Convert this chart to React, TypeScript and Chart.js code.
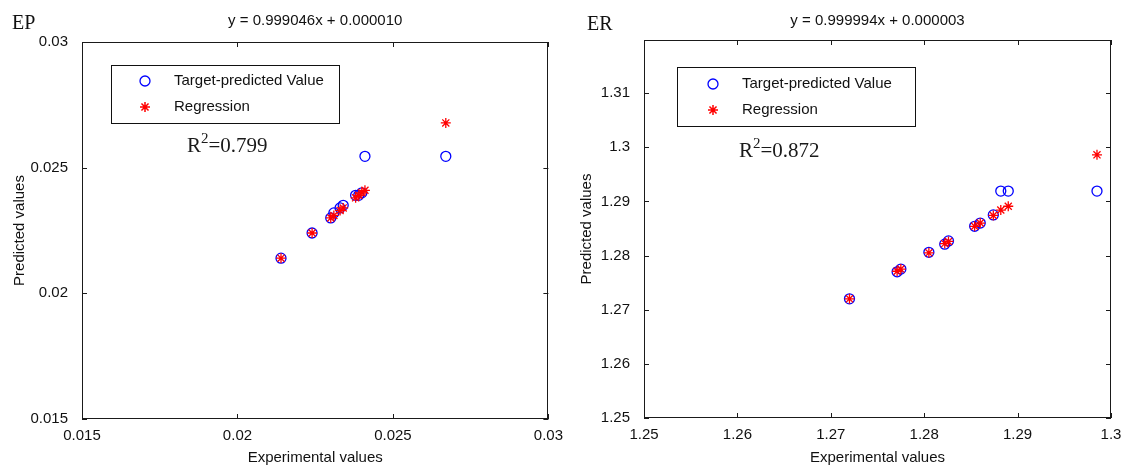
import React, { useEffect, useRef } from "react";
import { Chart, registerables } from "chart.js";

Chart.register(...registerables);

// ---------- EP panel data ----------
const epExperimental = [0.0214, 0.0224, 0.0230, 0.0231, 0.0233, 0.0234, 0.0238, 0.0239, 0.0240, 0.0241, 0.0267];
const epPredicted = [0.0214, 0.0224, 0.0230, 0.0232, 0.0234, 0.0235, 0.0239, 0.0239, 0.0240, 0.02545, 0.02545];
const epRegression = [0.0214, 0.0224, 0.0230, 0.0231, 0.0233, 0.0234, 0.0238, 0.0239, 0.0240, 0.0241, 0.02678];
const epTicks = [0.015, 0.02, 0.025, 0.03];

// ---------- ER panel data ----------
const erExperimental = [1.2720, 1.2771, 1.2775, 1.2805, 1.2822, 1.2826, 1.2854, 1.2860, 1.2874, 1.2882, 1.2890, 1.2985];
const erPredicted = [1.2720, 1.2770, 1.2775, 1.2806, 1.2821, 1.2827, 1.2854, 1.2860, 1.2875, 1.2919, 1.2919, 1.2919];
const erRegression = [1.2720, 1.2771, 1.2775, 1.2805, 1.2822, 1.2826, 1.2854, 1.2860, 1.2874, 1.2884, 1.2891, 1.2986];
const erXTicks = [1.25, 1.26, 1.27, 1.28, 1.29, 1.3];
const erYTicks = [1.25, 1.26, 1.27, 1.28, 1.29, 1.3, 1.31];

const SANS = '"Liberation Sans", Arial, Helvetica, sans-serif';
const SERIF = '"Liberation Serif", "Times New Roman", serif';

type Spec = {
  tag: string; tagX: number; tagY: number;
  equation: string;
  r2: string; r2X: number; r2Y: number;
  legend: { x: number; y: number; w: number; h: number; markerX: number; textX: number; row1: number; row2: number };
  xs: number[]; pred: number[]; reg: number[];
  xMin: number; xMax: number; yMin: number; yMax: number;
  xTicks: number[]; yTicks: number[];
  yAxisWidth: number; padTop: number; padRight: number; xAxisHeight: number;
  yTitleX: number;
};

const epSpec: Spec = {
  tag: "EP", tagX: 12, tagY: 29,
  equation: "y = 0.999046x + 0.000010",
  r2: "0.799", r2X: 187, r2Y: 152,
  legend: { x: 111, y: 65, w: 228, h: 58, markerX: 145, textX: 174, row1: 81, row2: 107 },
  xs: epExperimental, pred: epPredicted, reg: epRegression,
  xMin: 0.015, xMax: 0.03, yMin: 0.015, yMax: 0.03,
  xTicks: epTicks, yTicks: epTicks,
  yAxisWidth: 82, padTop: 42, padRight: 14, xAxisHeight: 49,
  yTitleX: 20,
};

const erSpec: Spec = {
  tag: "ER", tagX: 24, tagY: 30,
  equation: "y = 0.999994x + 0.000003",
  r2: "0.872", r2X: 176, r2Y: 157,
  legend: { x: 114, y: 67, w: 238, h: 59, markerX: 150, textX: 179, row1: 84, row2: 110 },
  xs: erExperimental, pred: erPredicted, reg: erRegression,
  xMin: 1.25, xMax: 1.3, yMin: 1.25, yMax: 1.3198,
  xTicks: erXTicks, yTicks: erYTicks,
  yAxisWidth: 81, padTop: 40, padRight: 15, xAxisHeight: 50,
  yTitleX: 24,
};

const fmt = (v: number) => String(parseFloat(Number(v).toFixed(4)));

function drawStar(ctx: CanvasRenderingContext2D, x: number, y: number, r: number) {
  const d = r * Math.SQRT1_2;
  ctx.beginPath();
  ctx.moveTo(x - r, y); ctx.lineTo(x + r, y);
  ctx.moveTo(x, y - r); ctx.lineTo(x, y + r);
  ctx.moveTo(x - d, y - d); ctx.lineTo(x + d, y + d);
  ctx.moveTo(x - d, y + d); ctx.lineTo(x + d, y - d);
  ctx.stroke();
}

function makeDecor(spec: Spec) {
  return {
    id: "panelDecor",
    afterDraw(chart: any) {
      const ctx: CanvasRenderingContext2D = chart.ctx;
      const a = chart.chartArea;
      const sx = chart.scales.x;
      const sy = chart.scales.y;
      ctx.save();
      // box
      ctx.strokeStyle = "#1a1a1a";
      ctx.lineWidth = 1;
      ctx.strokeRect(Math.round(a.left) + 0.5, Math.round(a.top) + 0.5, Math.round(a.right - a.left) - 1, Math.round(a.bottom - a.top) - 1);
      // inward ticks
      const tl = 5;
      ctx.beginPath();
      spec.xTicks.forEach((v) => {
        const px = Math.round(sx.getPixelForValue(v)) + 0.5;
        ctx.moveTo(px, a.bottom); ctx.lineTo(px, a.bottom - tl);
        ctx.moveTo(px, a.top); ctx.lineTo(px, a.top + tl);
      });
      spec.yTicks.forEach((v) => {
        const py = Math.round(sy.getPixelForValue(v)) + 0.5;
        ctx.moveTo(a.left, py); ctx.lineTo(a.left + tl, py);
        ctx.moveTo(a.right, py); ctx.lineTo(a.right - tl, py);
      });
      ctx.stroke();

      // equation title
      ctx.fillStyle = "#111";
      ctx.font = `15px ${SANS}`;
      ctx.textAlign = "center";
      ctx.textBaseline = "middle";
      ctx.fillText(spec.equation, (a.left + a.right) / 2, 21);

      // axis titles
      ctx.fillText("Experimental values", (a.left + a.right) / 2, 458);
      ctx.save();
      ctx.translate(spec.yTitleX, (a.top + a.bottom) / 2);
      ctx.rotate(-Math.PI / 2);
      ctx.fillText("Predicted values", 0, 0);
      ctx.restore();

      // panel tag
      ctx.textAlign = "left";
      ctx.textBaseline = "alphabetic";
      ctx.font = `20px ${SERIF}`;
      ctx.fillStyle = "#111";
      ctx.fillText(spec.tag, spec.tagX, spec.tagY);

      // legend
      const L = spec.legend;
      ctx.fillStyle = "#fff";
      ctx.fillRect(L.x, L.y, L.w, L.h);
      ctx.strokeStyle = "#111";
      ctx.lineWidth = 1;
      ctx.strokeRect(L.x + 0.5, L.y + 0.5, L.w, L.h);
      ctx.strokeStyle = "#0000ff";
      ctx.lineWidth = 1.3;
      ctx.beginPath();
      ctx.arc(L.markerX, L.row1, 5, 0, Math.PI * 2);
      ctx.stroke();
      ctx.strokeStyle = "#ff0000";
      ctx.lineWidth = 1.5;
      drawStar(ctx, L.markerX, L.row2, 5);
      ctx.fillStyle = "#111";
      ctx.font = `15px ${SANS}`;
      ctx.textBaseline = "middle";
      ctx.fillText("Target-predicted Value", L.textX, L.row1);
      ctx.fillText("Regression", L.textX, L.row2);

      // R^2 annotation
      ctx.textBaseline = "alphabetic";
      ctx.fillStyle = "#1a1a1a";
      ctx.font = `21px ${SERIF}`;
      let x = spec.r2X;
      ctx.fillText("R", x, spec.r2Y);
      x += ctx.measureText("R").width;
      ctx.font = `15px ${SERIF}`;
      ctx.fillText("2", x, spec.r2Y - 9);
      x += ctx.measureText("2").width;
      ctx.font = `21px ${SERIF}`;
      ctx.fillText("=" + spec.r2, x, spec.r2Y);
      ctx.restore();
    },
  };
}

function buildConfig(spec: Spec): any {
  const tickFont = { family: SANS, size: 15 };
  return {
    type: "scatter",
    data: {
      datasets: [
        {
          label: "Regression",
          data: spec.reg.map((y, i) => ({ x: spec.xs[i], y })),
          pointStyle: "star",
          pointRadius: 5,
          borderColor: "#ff0000",
          backgroundColor: "#ff0000",
          pointBorderWidth: 1.3,
          showLine: false,
        },
        {
          label: "Target-predicted Value",
          data: spec.pred.map((y, i) => ({ x: spec.xs[i], y })),
          pointStyle: "circle",
          pointRadius: 5,
          borderColor: "#0000ff",
          backgroundColor: "rgba(0,0,0,0)",
          pointBorderWidth: 1.3,
          showLine: false,
        },
      ],
    },
    options: {
      responsive: false,
      animation: false,
      events: [],
      layout: { padding: { top: spec.padTop, right: spec.padRight, left: 0, bottom: 0 } },
      plugins: { legend: { display: false }, tooltip: { enabled: false }, title: { display: false } },
      scales: {
        x: {
          type: "linear",
          min: spec.xMin,
          max: spec.xMax,
          grid: { display: false },
          border: { display: false },
          afterBuildTicks: (s: any) => { s.ticks = spec.xTicks.map((v) => ({ value: v })); },
          afterFit: (s: any) => { s.height = spec.xAxisHeight; },
          ticks: { padding: 0, font: tickFont, color: "#111", autoSkip: false, maxRotation: 0, callback: (v: number) => fmt(v) },
        },
        y: {
          type: "linear",
          min: spec.yMin,
          max: spec.yMax,
          grid: { display: false },
          border: { display: false },
          afterBuildTicks: (s: any) => { s.ticks = spec.yTicks.map((v) => ({ value: v })); },
          afterFit: (s: any) => { s.width = spec.yAxisWidth; },
          ticks: { padding: 6, font: tickFont, color: "#111", autoSkip: false, callback: (v: number) => fmt(v) },
        },
      },
    },
    plugins: [makeDecor(spec)],
  };
}

function Panel({ spec, left }: { spec: Spec; left: number }) {
  const ref = useRef<HTMLCanvasElement>(null);
  useEffect(() => {
    const chart = new Chart(ref.current as HTMLCanvasElement, buildConfig(spec));
    return () => chart.destroy();
  }, [spec]);
  return (
    <canvas
      ref={ref}
      width={563}
      height={468}
      style={{ position: "absolute", left, top: 0, width: 563, height: 468 }}
    />
  );
}

export default function App() {
  return (
    <div style={{ position: "absolute", left: 0, top: 0, width: 1126, height: 468, background: "#fff", overflow: "hidden" }}>
      <Panel spec={epSpec} left={0} />
      <Panel spec={erSpec} left={563} />
    </div>
  );
}
